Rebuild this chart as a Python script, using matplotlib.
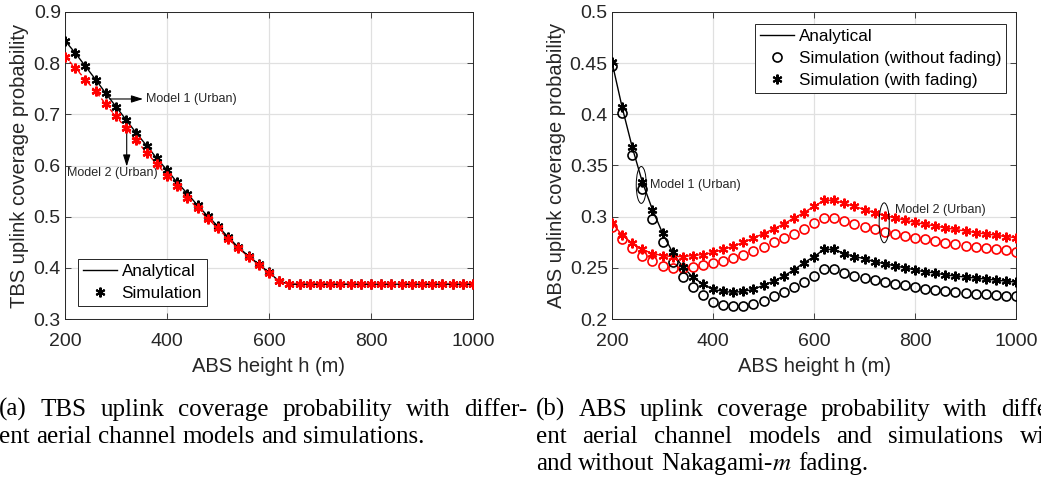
import matplotlib
matplotlib.use("Agg")
import matplotlib.pyplot as plt
from matplotlib.patches import Ellipse
from matplotlib.lines import Line2D

# ---------------- data ----------------
heights = [200, 220, 240, 260, 280, 300, 320, 340, 360, 380, 400, 420, 440, 460,
           480, 500, 520, 540, 560, 580, 600, 620, 640, 660, 680, 700, 720, 740,
           760, 780, 800, 820, 840, 860, 880, 900, 920, 940, 960, 980, 1000]

# (a) TBS uplink coverage probability
tbs_model1 = [0.844, 0.820, 0.794, 0.768, 0.741, 0.715, 0.689, 0.663, 0.639, 0.614,
              0.591, 0.567, 0.545, 0.522, 0.501, 0.481, 0.460, 0.440, 0.423, 0.407,
              0.391, 0.374, 0.368, 0.368, 0.368, 0.368, 0.368, 0.368, 0.368, 0.368,
              0.368, 0.368, 0.368, 0.368, 0.368, 0.368, 0.368, 0.368, 0.368, 0.368, 0.368]
tbs_model2 = [0.813, 0.791, 0.768, 0.745, 0.720, 0.696, 0.673, 0.649, 0.625, 0.603,
              0.580, 0.559, 0.537, 0.516, 0.496, 0.477, 0.457, 0.438, 0.422, 0.406,
              0.389, 0.374, 0.368, 0.368, 0.368, 0.368, 0.368, 0.368, 0.368, 0.368,
              0.368, 0.368, 0.368, 0.368, 0.368, 0.368, 0.368, 0.368, 0.368, 0.368, 0.368]

# (b) ABS uplink coverage probability
abs_m1_fading = [0.451, 0.407, 0.368, 0.334, 0.307, 0.284, 0.265, 0.251, 0.241, 0.234,
                 0.229, 0.227, 0.226, 0.227, 0.229, 0.233, 0.237, 0.242, 0.248, 0.255,
                 0.261, 0.268, 0.268, 0.264, 0.261, 0.259, 0.256, 0.254, 0.252, 0.250,
                 0.248, 0.246, 0.245, 0.243, 0.242, 0.241, 0.240, 0.239, 0.238, 0.237, 0.236]
abs_m1_nofading = [0.447, 0.401, 0.360, 0.327, 0.298, 0.275, 0.256, 0.241, 0.231, 0.223,
                   0.217, 0.214, 0.213, 0.213, 0.215, 0.218, 0.222, 0.226, 0.231, 0.236,
                   0.242, 0.249, 0.249, 0.245, 0.242, 0.240, 0.238, 0.236, 0.234, 0.233,
                   0.231, 0.229, 0.228, 0.227, 0.226, 0.225, 0.2245, 0.224, 0.223, 0.2225, 0.222]
abs_m2_fading = [0.294, 0.282, 0.274, 0.268, 0.264, 0.262, 0.261, 0.261, 0.262, 0.263,
                 0.265, 0.268, 0.271, 0.275, 0.279, 0.2835, 0.288, 0.293, 0.2985, 0.304,
                 0.310, 0.316, 0.316, 0.313, 0.310, 0.307, 0.304, 0.301, 0.299, 0.2965,
                 0.2945, 0.2925, 0.291, 0.289, 0.2875, 0.286, 0.2845, 0.283, 0.282, 0.2805, 0.2795]
abs_m2_nofading = [0.290, 0.278, 0.269, 0.262, 0.257, 0.252, 0.250, 0.250, 0.251, 0.253,
                   0.255, 0.257, 0.260, 0.263, 0.2665, 0.2705, 0.275, 0.279, 0.2835, 0.288,
                   0.2935, 0.299, 0.299, 0.296, 0.293, 0.290, 0.288, 0.2855, 0.283, 0.281,
                   0.279, 0.278, 0.276, 0.2745, 0.273, 0.2715, 0.2705, 0.269, 0.268, 0.267, 0.2655]

xticks = [200, 400, 600, 800, 1000]
yticks_a = [0.3, 0.4, 0.5, 0.6, 0.7, 0.8, 0.9]
yticks_b = [0.2, 0.25, 0.3, 0.35, 0.4, 0.45, 0.5]

caption_a = ["(a) TBS uplink coverage probability with differ-",
             "ent aerial channel models and simulations."]
caption_b = ["(b) ABS uplink coverage probability with differ-",
             "ent aerial channel models and simulations with",
             "and without Nakagami-$m$ fading."]

# ---------------- style ----------------
W, H = 1041, 492
plt.rcParams['font.family'] = ['Liberation Sans', 'DejaVu Sans']
plt.rcParams['mathtext.fontset'] = 'stix'
AX_C = (0.15, 0.15, 0.15)
GRID_C = (0.88, 0.88, 0.88)
AST = (6, 2, 0)

fig = plt.figure(figsize=(W / 100, H / 100), dpi=100)


def px_axes(x0, y0, x1, y1):
    return fig.add_axes([x0 / W, 1 - y1 / H, (x1 - x0) / W, (y1 - y0) / H])


def style(ax, yt, ylabel):
    ax.set_xlim(200, 1000)
    ax.set_xticks(xticks)
    ax.set_yticks(yt)
    ax.set_yticklabels(['%g' % v for v in yt])
    ax.grid(True, color=GRID_C, lw=0.9)
    ax.set_axisbelow(True)
    ax.tick_params(direction='in', top=True, right=True, length=4, width=0.6,
                   colors=AX_C, labelsize=14)
    ax.tick_params(axis='x', pad=10)
    ax.tick_params(axis='y', pad=3)
    for s in ax.spines.values():
        s.set_color(AX_C)
        s.set_linewidth(0.7)
    ax.set_xlabel('ABS height h (m)', fontsize=14.5, color=AX_C, labelpad=5)
    ax.set_ylabel(ylabel, fontsize=14.5, color=AX_C, labelpad=3)


LEG = dict(fontsize=12.3, handlelength=2.0, handletextpad=0.25, labelspacing=0.4,
           borderpad=0.3, fancybox=False, framealpha=1, edgecolor=AX_C,
           borderaxespad=0, loc='upper left', bbox_transform=fig.transFigure)

# ---------------- (a) ----------------
axa = px_axes(65, 12, 473, 319)
axa.plot(heights, tbs_model2, color='red', lw=1.0, ls=(0, (3, 2)), zorder=2)
axa.plot(heights, tbs_model1, color='black', lw=1.0, zorder=3)
axa.plot(heights, tbs_model1, ls='none', marker=AST, ms=7, mew=1.5, color='black', zorder=4)
axa.plot(heights, tbs_model2, ls='none', marker=AST, ms=7, mew=1.7, color='red', zorder=5)
axa.set_ylim(0.3, 0.9)
style(axa, yticks_a, 'TBS uplink coverage probability')

axa.annotate('', xy=(353, 0.730), xytext=(288, 0.730),
             arrowprops=dict(arrowstyle='-|>,head_length=0.7,head_width=0.22',
                             color='black', lw=0.8, shrinkA=0, shrinkB=0))
axa.text(358, 0.730, 'Model 1 (Urban)', fontsize=9, color=AX_C, va='center', ha='left')
axa.annotate('', xy=(321, 0.598), xytext=(321, 0.664),
             arrowprops=dict(arrowstyle='-|>,head_length=0.7,head_width=0.22',
                             color='black', lw=0.8, shrinkA=0, shrinkB=0))
axa.text(204, 0.585, 'Model 2 (Urban)', fontsize=9, color=AX_C, va='center', ha='left')

leg_a = [Line2D([], [], color='black', lw=1.0),
         Line2D([], [], ls='none', marker=AST, ms=7, mew=1.5, color='black')]
la = axa.legend(leg_a, ['Analytical', 'Simulation'],
                bbox_to_anchor=(78 / W, 1 - 259 / H), **LEG)
la.get_frame().set_linewidth(0.7)

# ---------------- (b) ----------------
axb = px_axes(612, 12, 1016, 319)
axb.plot(heights, abs_m2_fading, color='red', lw=1.0, zorder=2)
axb.plot(heights, abs_m1_fading, color='black', lw=1.0, zorder=2)
axb.plot(heights, abs_m2_nofading, ls='none', marker='o', ms=6.5, mew=1.2,
         mfc='none', mec='red', zorder=3)
axb.plot(heights, abs_m1_nofading, ls='none', marker='o', ms=6.5, mew=1.2,
         mfc='none', mec='black', zorder=3)
axb.plot(heights, abs_m2_fading, ls='none', marker=AST, ms=7, mew=1.5, color='red', zorder=4)
axb.plot(heights, abs_m1_fading, ls='none', marker=AST, ms=7, mew=1.5, color='black', zorder=4)
axb.set_ylim(0.2, 0.5)
style(axb, yticks_b, 'ABS uplink coverage probability')

axb.add_patch(Ellipse((258, 0.331), 20, 0.036, fill=False, ec='black', lw=0.7, zorder=6))
axb.text(276, 0.331, 'Model 1 (Urban)', fontsize=9, color=AX_C, va='center', ha='left')
axb.add_patch(Ellipse((739, 0.294), 20, 0.039, fill=False, ec='black', lw=0.7, zorder=6))
axb.text(760, 0.3065, 'Model 2 (Urban)', fontsize=9, color=AX_C, va='center', ha='left')

leg_b = [Line2D([], [], color='black', lw=1.0),
         Line2D([], [], ls='none', marker='o', ms=6.5, mew=1.2, mfc='none', mec='black'),
         Line2D([], [], ls='none', marker=AST, ms=7, mew=1.5, color='black')]
lb = axb.legend(leg_b, ['Analytical', 'Simulation (without fading)', 'Simulation (with fading)'],
                bbox_to_anchor=(755 / W, 1 - 24 / H), **LEG)
lb.get_frame().set_linewidth(0.7)

# ---------------- captions ----------------
fig.canvas.draw()
renderer = fig.canvas.get_renderer()
CAP = dict(fontsize=18, family=['Liberation Serif', 'DejaVu Serif'], color='black',
           va='baseline', ha='left')
probe1 = fig.text(0, 0, 'x x', **CAP)
probe2 = fig.text(0, 0, 'xx', **CAP)
space_w = probe1.get_window_extent(renderer).width - probe2.get_window_extent(renderer).width
probe1.remove()
probe2.remove()


def place_line(line, x0, ybase, width=None):
    words = line.split(' ')
    texts = [fig.text(0, 0, w, **CAP) for w in words]
    ws = [t.get_window_extent(renderer).width for t in texts]
    gap = space_w if width is None else (width - sum(ws)) / (len(words) - 1)
    x = x0
    for t, w in zip(texts, ws):
        t.set_position((x / W, 1 - ybase / H))
        x += w + gap


COLW = 528
place_line(caption_a[0], -1, 416, COLW)
place_line(caption_a[1], -1, 443)
place_line(caption_b[0], 536, 416, COLW)
place_line(caption_b[1], 536, 443, COLW)
place_line(caption_b[2], 536, 470)

fig.savefig('out.png', dpi=100)
